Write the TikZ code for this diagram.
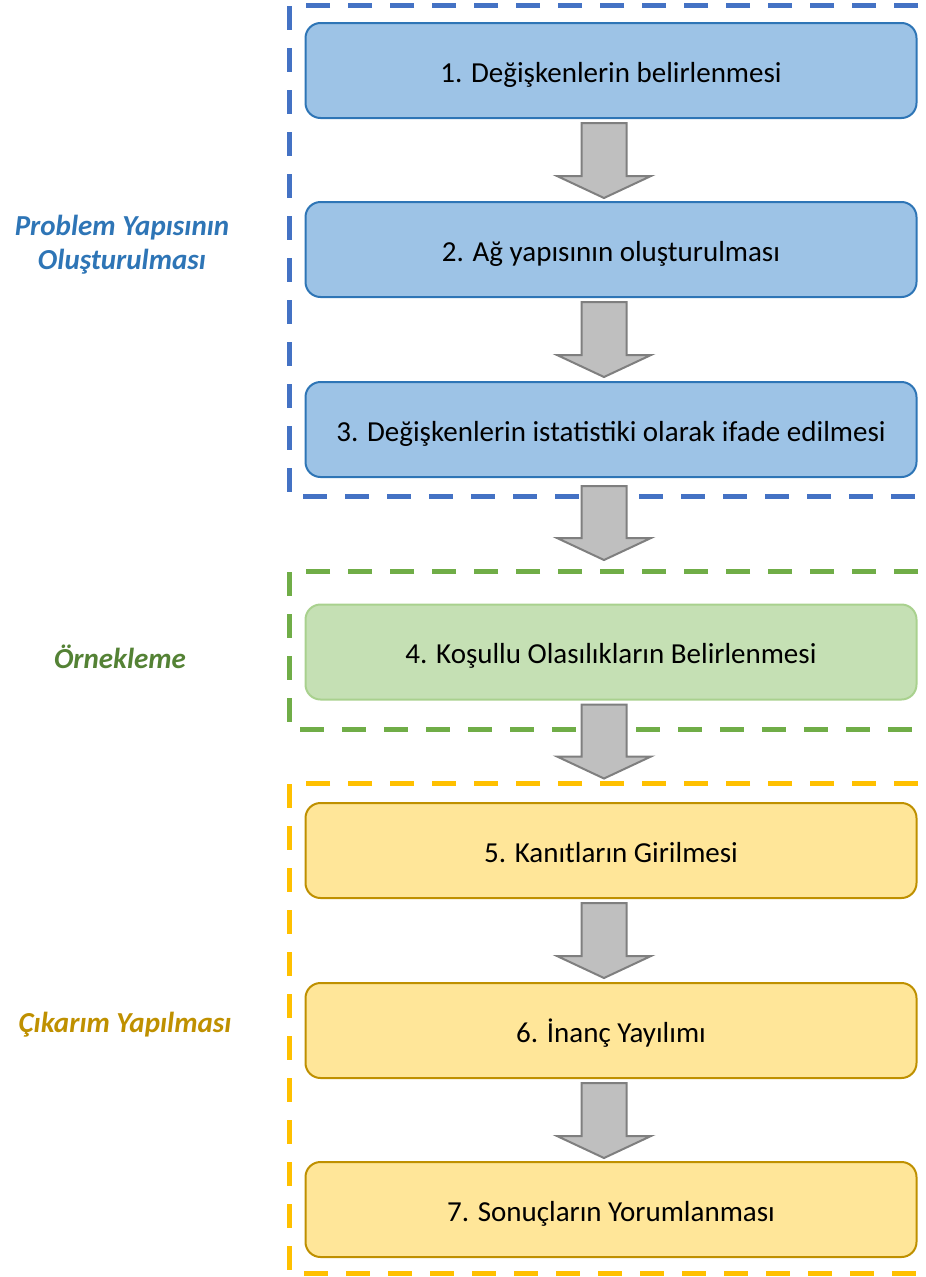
\documentclass[tikz,border=0pt]{standalone}
\usepackage{fontspec}
\setmainfont{Carlito}
\usetikzlibrary{calc}

\definecolor{frameblue}{HTML}{4472C4}
\definecolor{framegreen}{HTML}{70AD47}
\definecolor{frameyellow}{HTML}{FFC000}
\definecolor{boxblue}{HTML}{9DC3E6}
\definecolor{lineblue}{HTML}{2E75B6}
\definecolor{boxgreen}{HTML}{C5E0B4}
\definecolor{linegreen}{HTML}{A9D18E}
\definecolor{boxyellow}{HTML}{FFE699}
\definecolor{lineyellow}{HTML}{BF9000}
\definecolor{labelgreen}{HTML}{548235}
\definecolor{arrowfill}{HTML}{BFBFBF}
\definecolor{arrowline}{HTML}{7F7F7F}

% block arrow hanging below a node: #1 node, #2 gap, #3 total length
\newcommand{\blockarrow}[3]{%
  \draw[flowarrow] ($(#1.south)+(-29.5,#2)$) -- ++(0,{#3-22}) -- ++(-24.5,0)
    -- ++(47,22) -- ++(47,-22) -- ++(-24.5,0) -- ++(0,{-(#3-22)}) -- cycle;}

\begin{document}
\begin{tikzpicture}[x=1pt,y=-1pt,
  groupframe/.style={line width=5pt, dash pattern=on 24pt off 18pt},
  stepbox/.style={rounded corners=15pt, minimum width=611pt, minimum height=95pt,
    line width=2pt, font=\fontsize{29}{34}\selectfont, inner sep=0pt,
    text height=25pt, text depth=2pt},
  bluestep/.style={stepbox, fill=boxblue, draw=lineblue},
  greenstep/.style={stepbox, fill=boxgreen, draw=linegreen},
  yellowstep/.style={stepbox, fill=boxyellow, draw=lineyellow},
  grouplabel/.style={font=\fontsize{29}{34}\selectfont\bfseries\itshape, align=center},
  flowarrow/.style={fill=arrowfill, draw=arrowline, line width=2pt, line join=miter}]
\useasboundingbox (0,0) rectangle (926,1277);
\clip (0,0) rectangle (926,1277);

% group frames (open to the right)
\draw[groupframe, frameblue] (960,5) -- (289,5) -- (289,496) -- (960,496);
\draw[groupframe, framegreen] (960,571) -- (289,571) -- (289,729) -- (960,729);
\draw[groupframe, frameyellow] (960,783) -- (289,783) -- (289,1273) -- (960,1273);

% steps
\node[bluestep] (s1) at (611,70.5) {1. Değişkenlerin belirlenmesi};
\node[bluestep] (s2) at (611,249.5) {2. Ağ yapısının oluşturulması};
\node[bluestep] (s3) at (611,429.5) {3. Değişkenlerin istatistiki olarak ifade edilmesi};
\node[greenstep] (s4) at (611,652) {4. Koşullu Olasılıkların Belirlenmesi};
\node[yellowstep] (s5) at (611,850.5) {5. Kanıtların Girilmesi};
\node[yellowstep] (s6) at (611,1030.5) {6. İnanç Yayılımı};
\node[yellowstep] (s7) at (611,1209.5) {7. Sonuçların Yorumlanması};

% arrows between steps
\blockarrow{s1}{4}{75}
\blockarrow{s2}{4}{75}
\blockarrow{s3}{8}{74}
\blockarrow{s4}{4}{74}
\blockarrow{s5}{4}{75}
\blockarrow{s6}{4}{75}

% group labels
\node[grouplabel, text=lineblue] (g1) at (122,245) {Problem Yapısının\\Oluşturulması};
\node[grouplabel, text=labelgreen] (g2) at (120,657) {Örnekleme};
\node[grouplabel, text=lineyellow] (g3) at (125,1025) {Çıkarım Yapılması};
\end{tikzpicture}
\end{document}
